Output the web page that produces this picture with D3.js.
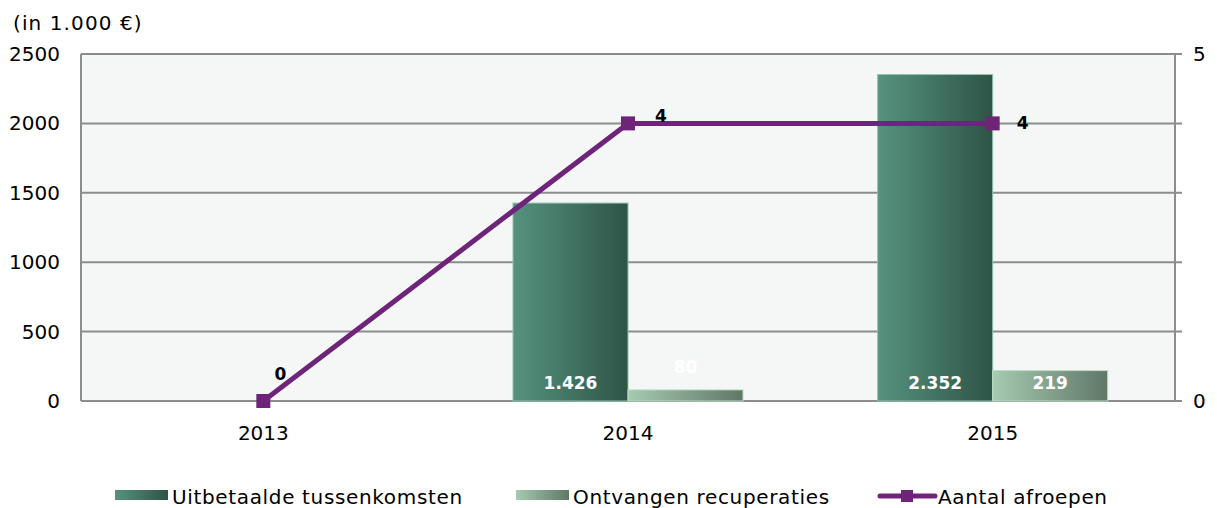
<!DOCTYPE html>
<html lang="nl">
<head>
    <meta charset="UTF-8">
    <script src="https://d3js.org/d3.v7.min.js"></script>
    <title>Tussenkomsten</title>
    <style>
        body { margin: 0; background: #fff; }
        text { font-family: "DejaVu Sans", Verdana, sans-serif; }
    </style>
</head>
<body>
    <script>

        var years = ["2013", "2014", "2015"];
        var uitbetaald = [0, 1426, 2352];
        var recuperaties = [0, 80, 219];
        var afroepen = [0, 4, 4];
        var leftTicks = [0, 500, 1000, 1500, 2000, 2500];
        var rightTicks = [0, 5];
        var seriesNames = ["Uitbetaalde tussenkomsten", "Ontvangen recuperaties", "Aantal afroepen"];

        var W = 1217, H = 508;
        var m = {left: 81, right: 42, top: 54, bottom: 107};
        var iw = W - m.left - m.right, ih = H - m.top - m.bottom;

        var svg = d3.select("body").append("svg")
            .attr("width", W)
            .attr("height", H);

        var defs = svg.append("defs");
        function grad(id, c1, c2) {
            var g = defs.append("linearGradient").attr("id", id)
                .attr("x1", "0%").attr("x2", "100%").attr("y1", "0%").attr("y2", "0%");
            g.append("stop").attr("offset", "0%").attr("stop-color", c1);
            g.append("stop").attr("offset", "100%").attr("stop-color", c2);
        }
        grad("g1", "#56927f", "#2e5446");
        grad("g2", "#a6cab2", "#5f7866");

        var x = d3.scaleBand().domain(years).range([0, iw]);
        var x1 = d3.scaleBand().domain([0, 1]).range([0, 230])
        var y = d3.scaleLinear().domain([0, 2500]).range([ih, 0]);
        var y2 = d3.scaleLinear().domain([0, 5]).range([ih, 0]);

        var g = svg.append("g").attr("transform", "translate(" + m.left + "," + m.top + ")");

        g.append("rect")
            .attr("width", iw).attr("height", ih)
            .attr("fill", "#f5f7f6");

        // gridlines, extend a bit past the right edge
        g.selectAll(".grid")
            .data(leftTicks)
            .enter()
            .append("line")
            .attr("x1", 0).attr("x2", iw + 7)
            .attr("y1", function(d) { return y(d); })
            .attr("y2", function(d) { return y(d); })
            .attr("stroke", "#8c8c8c")
            .attr("stroke-width", 2);

        g.append("line").attr("x1", 0).attr("x2", 0).attr("y1", 0).attr("y2", ih)
            .attr("stroke", "#8c8c8c").attr("stroke-width", 2);
        g.append("line").attr("x1", iw).attr("x2", iw).attr("y1", 0).attr("y2", ih)
            .attr("stroke", "#8c8c8c").attr("stroke-width", 2);

        g.selectAll(".ly")
            .data(leftTicks)
            .enter()
            .append("text")
            .attr("x", -21)
            .attr("y", function(d) { return y(d) + 7; })
            .attr("text-anchor", "end")
            .attr("font-size", 20)
            .text(function(d) { return d; });

        g.selectAll(".ry")
            .data(rightTicks)
            .enter()
            .append("text")
            .attr("x", iw + 18)
            .attr("y", function(d) { return y2(d) + 7; })
            .attr("font-size", 20)
            .text(function(d) { return d; });

        g.selectAll(".xl")
            .data(years)
            .enter()
            .append("text")
            .attr("x", function(d) { return x(d) + x.bandwidth() / 2; })
            .attr("y", ih + 39)
            .attr("text-anchor", "middle")
            .attr("font-size", 20)
            .text(function(d) { return d; });

        svg.append("text")
            .attr("x", 13).attr("y", 30)
            .attr("font-size", 20)
            .attr("letter-spacing", 1.1)
            .text("(in 1.000 €)");

        // bars
        var series = [uitbetaald, recuperaties];
        var fills = ["url(#g1)", "url(#g2)"];
        var strokes = ["#8fc2ad", "#bcdcc6"];
        series.forEach(function(vals, s) {
            var bars = g.selectAll(".bar" + s)
                .data(years.map(function(yr, i) { return {yr: yr, v: vals[i]}; }).filter(function(d) { return d.v > 0; }))
                .enter();
            bars.append("rect")
                .attr("x", function(d) { return x(d.yr) + x.bandwidth() / 2 - 115 + x1(s); })
                .attr("y", function(d) { return y(d.v); })
                .attr("width", x1.bandwidth())
                .attr("height", function(d) { return ih - y(d.v); })
                .attr("fill", fills[s])
                .attr("stroke", strokes[s])
                .attr("stroke-width", 1);
            bars.append("text")
                .attr("x", function(d) { return x(d.yr) + x.bandwidth() / 2 - 115 + x1(s) + x1.bandwidth() / 2; })
                .attr("y", function(d) { return ih - y(d.v) > 25 ? ih - 12 : y(d.v) - 17; })
                .attr("text-anchor", "middle")
                .attr("font-size", 17)
                .attr("font-weight", "bold")
                .attr("fill", "#fff")
                .text(function(d) { return d3.format(",")(d.v).replace(",", "."); });
        });

        // line
        var pts = years.map(function(yr, i) { return {yr: yr, v: afroepen[i]}; });
        var line = d3.line()
            .x(function(d) { return x(d.yr) + x.bandwidth() / 2; })
            .y(function(d) { return y2(d.v); });
        g.append("path")
            .datum(pts)
            .attr("d", line)
            .attr("fill", "none")
            .attr("stroke", "#6e2479")
            .attr("stroke-width", 5);
        g.selectAll(".mk")
            .data(pts)
            .enter()
            .append("rect")
            .attr("x", function(d) { return x(d.yr) + x.bandwidth() / 2 - 7; })
            .attr("y", function(d) { return y2(d.v) - 7; })
            .attr("width", 14).attr("height", 14)
            .attr("fill", "#6e2479");
        var lblOff = [[17, -21], [33, -1], [30, 6]];
        g.selectAll(".ll")
            .data(pts)
            .enter()
            .append("text")
            .attr("x", function(d, i) { return x(d.yr) + x.bandwidth() / 2 + lblOff[i][0]; })
            .attr("y", function(d, i) { return y2(d.v) + lblOff[i][1]; })
            .attr("text-anchor", "middle")
            .attr("font-size", 17)
            .attr("font-weight", "bold")
            .text(function(d) { return d.v; });

        // legend
        var lg = svg.append("g").attr("font-size", 20).attr("letter-spacing", 0.65);
        lg.append("rect").attr("x", 115).attr("y", 490).attr("width", 53).attr("height", 10).attr("fill", "url(#g1)");
        lg.append("text").attr("x", 172).attr("y", 504).text(seriesNames[0]);
        lg.append("rect").attr("x", 516).attr("y", 490).attr("width", 53).attr("height", 10).attr("fill", "url(#g2)");
        lg.append("text").attr("x", 573).attr("y", 504).text(seriesNames[1]);
        lg.append("line").attr("x1", 880).attr("x2", 935).attr("y1", 496).attr("y2", 496)
            .attr("stroke", "#6e2479").attr("stroke-width", 5).attr("stroke-linecap", "round");
        lg.append("rect").attr("x", 901).attr("y", 490).attr("width", 12).attr("height", 12).attr("fill", "#6e2479");
        lg.append("text").attr("x", 938).attr("y", 504).text(seriesNames[2]);
    </script>
</body>
</html>
